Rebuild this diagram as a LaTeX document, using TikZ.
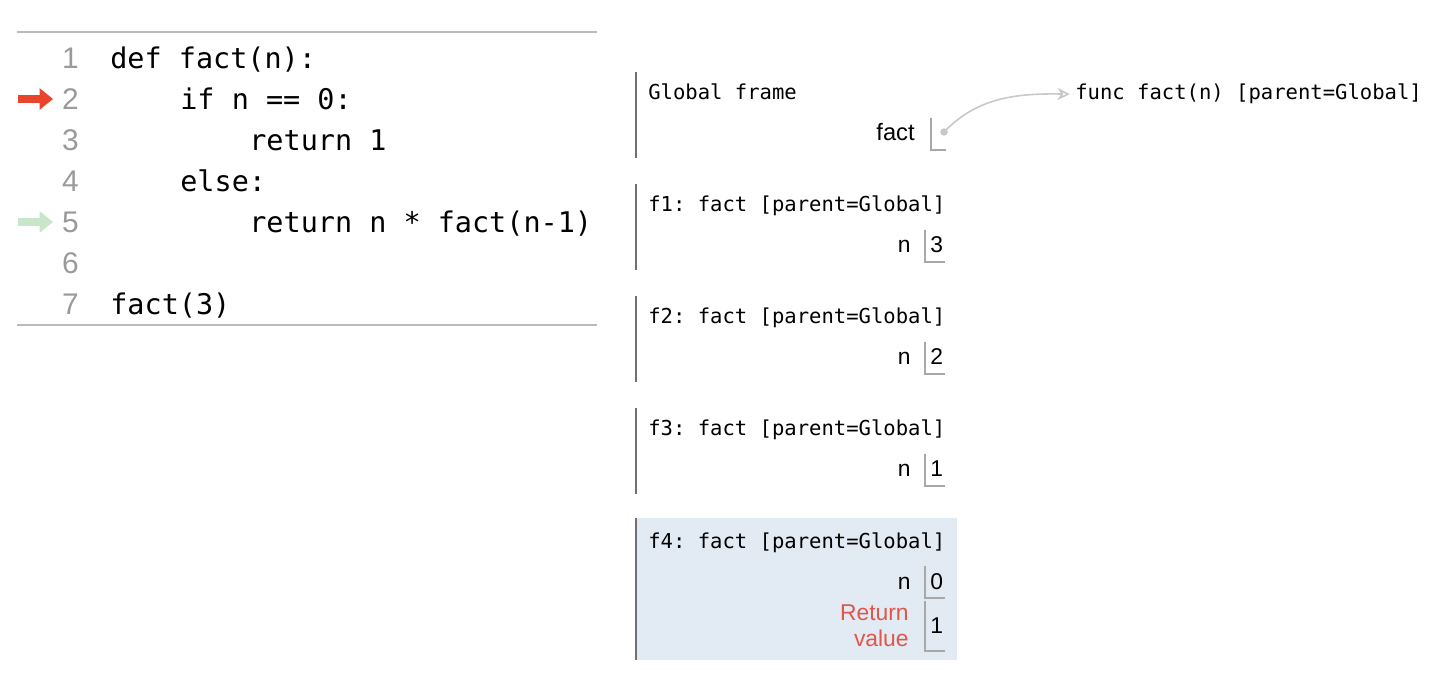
\documentclass[tikz,border=0pt]{standalone}
\usepackage{fontspec}
\setmainfont{Liberation Sans}
\setsansfont{Liberation Sans}
\setmonofont{DejaVu Sans Mono}
\usetikzlibrary{arrows.meta}
\definecolor{lngray}{HTML}{9A9A9A}
\definecolor{rulegray}{HTML}{BBBBBB}
\definecolor{bargray}{HTML}{707070}
\definecolor{boxgray}{HTML}{A8A8A8}
\definecolor{ptrgray}{HTML}{C8C8C8}
\definecolor{curred}{HTML}{E8452C}
\definecolor{prevgreen}{HTML}{C8E6C9}
\definecolor{retred}{HTML}{E0574A}
\definecolor{activebg}{HTML}{E2EAF4}

\begin{document}
\begin{tikzpicture}[x=0.02cm,y=-0.02cm,
    code/.style={anchor=base west,inner sep=0pt,font=\fontsize{16.2}{16}\selectfont\ttfamily},
    lnum/.style={anchor=base east,inner sep=0pt,text=lngray,font=\fontsize{17}{17}\selectfont\sffamily},
    ftitle/.style={anchor=base west,inner sep=0pt,font=\fontsize{11.7}{12}\selectfont\ttfamily},
    vname/.style={anchor=base east,inner sep=0pt,font=\fontsize{13}{13}\selectfont\sffamily},
    val/.style={anchor=base west,inner sep=0pt,font=\fontsize{13}{13}\selectfont\sffamily},
    bar/.style={draw=bargray,line width=1.2pt},
    vbox/.style={draw=boxgray,line width=0.6pt},
    rule/.style={draw=rulegray,line width=1.1pt},
    curline/.style={line width=0.16cm,-{Triangle[length=0.27cm,width=0.42cm]}}]
  \useasboundingbox (0,0) rectangle (1430,678);

  % code listing
  \draw[rule] (17,32) -- (597,32);
  \draw[rule] (17,325) -- (597,325);
  \foreach \i/\x/\t in {1/110/{def fact(n):},2/180/{if n == 0:},3/249/{return 1},
      4/180/{else:},5/249/{return n * fact(n-1)},6/110/{},7/110/{fact(3)}} {
    \node[lnum] (ln\i) at (79,{28+41*\i}) {\i};
    \node[code] (c\i) at (\x,{28+41*\i}) {\t};
  }
  \coordinate (cur) at (18,99);
  \coordinate (prev) at (18,222);
  \draw[curline,curred] (cur) -- ++(35,0);
  \draw[curline,prevgreen] (prev) -- ++(35,0);

  % global frame
  \draw[bar] (636,72) -- (636,158);
  \node[ftitle] (gf) at (648,100) {Global frame};
  \node[vname,font=\fontsize{13.5}{14}\selectfont\sffamily] (gfact) at (915,141) {fact};
  \draw[vbox] (931,118) |- (946,150);
  \fill[ptrgray] (944,132) circle (0.075cm);
  \coordinate (dot) at (944,132);
  \node[ftitle] (func) at (1075,100) {func fact(n) [parent=Global]};
  \draw[ptrgray,line width=0.9pt,-{Stealth[length=7pt,width=7pt,open]},shorten >=3pt]
    (dot) .. controls (975,100) and (1010,93) .. (func.west);

  % call frames
  \foreach \k/\v in {1/3,2/2,3/1} {
    \draw[bar] (636,{72+112*\k}) -- (636,{158+112*\k});
    \node[ftitle] (f\k) at (648,{100+112*\k}) {f\k: fact [parent=Global]};
    \node[vname] (f\k n) at (911,{141+112*\k}) {n};
    \draw[vbox] (925,{118+112*\k}) |- (945,{150+112*\k});
    \node[val] (f\k v) at (930,{141+112*\k}) {\v};
  }

  % active frame
  \fill[activebg] (636,518) rectangle (957,660);
  \draw[bar] (636,518) -- (636,660);
  \node[ftitle] (f4) at (648,548) {f4: fact [parent=Global]};
  \node[vname] (f4n) at (911,589) {n};
  \draw[vbox] (925,566) |- (945,598);
  \node[val] (f4v) at (930,589) {0};
  \node[vname,anchor=east,align=right,text=retred,font=\fontsize{13}{15}\selectfont\sffamily]
    (ret) at (909,626) {Return\\value};
  \draw[vbox] (925,601) |- (945,651);
  \node[val,anchor=west] (retv) at (930,626) {1};
\end{tikzpicture}
\end{document}
